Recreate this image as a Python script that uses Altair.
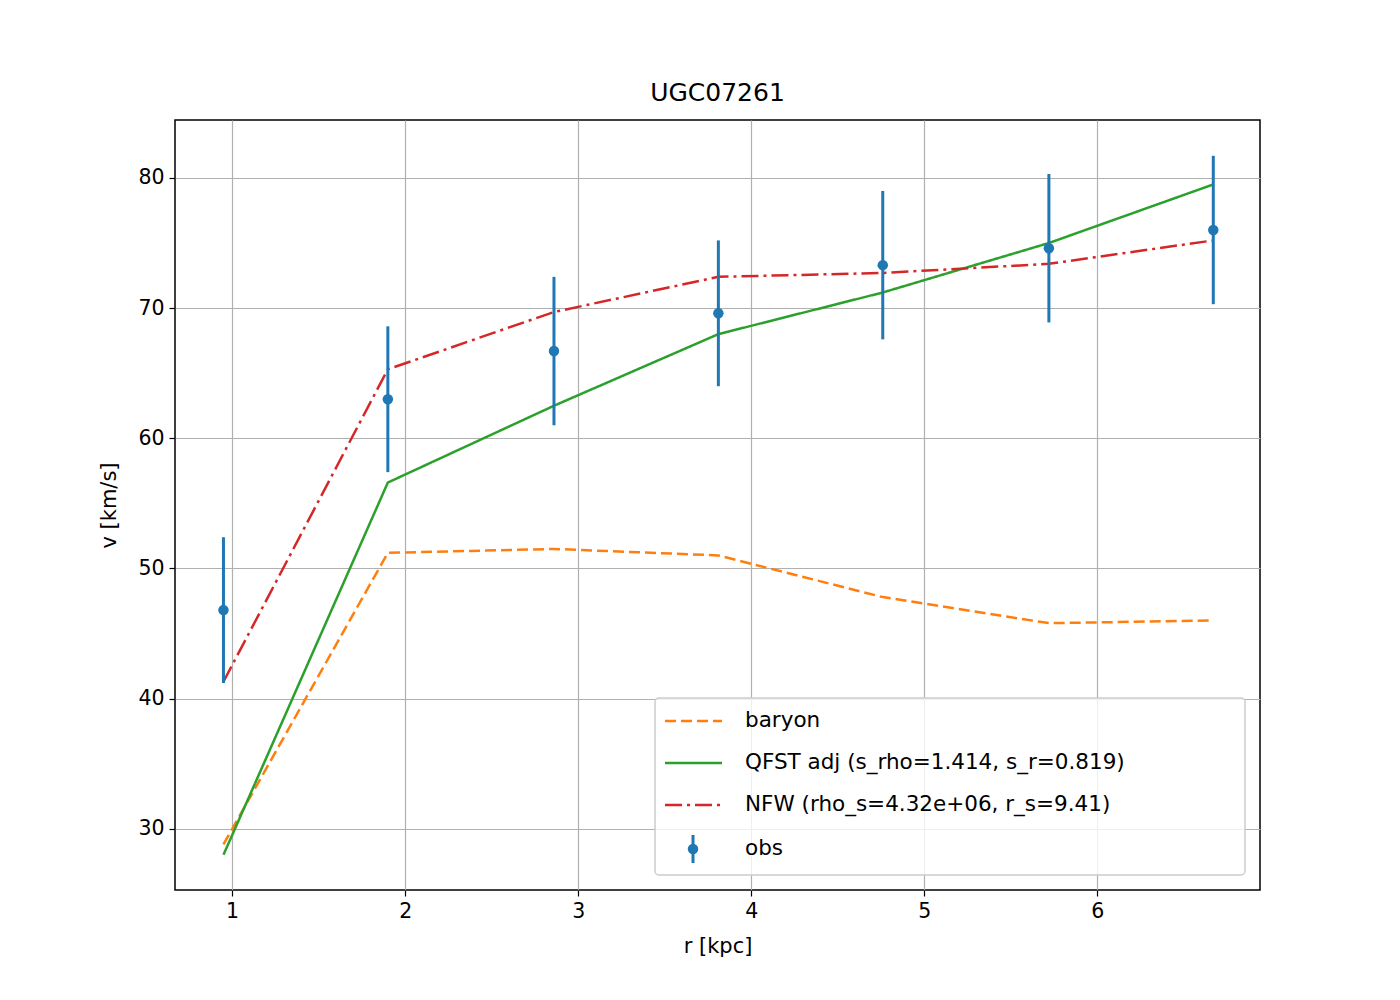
import altair as alt
import pandas as pd

r = [0.95, 1.90, 2.86, 3.81, 4.76, 5.72, 6.67]
v_obs = [46.8, 63.0, 66.7, 69.6, 73.3, 74.6, 76.0]
v_err = [5.6, 5.6, 5.7, 5.6, 5.7, 5.7, 5.7]
v_baryon = [28.8, 51.2, 51.5, 51.0, 47.8, 45.8, 46.0]
v_qfst = [28.0, 56.6, 62.5, 68.0, 71.2, 75.0, 79.5]
v_nfw = [41.3, 65.3, 69.7, 72.4, 72.7, 73.4, 75.2]

labels = ['baryon', 'QFST adj (s_rho=1.414, s_r=0.819)',
          'NFW (rho_s=4.32e+06, r_s=9.41)', 'obs']
colors = ['#ff7f0e', '#2ca02c', '#d62728', '#1f77b4']
dashes = [[11, 5], [1, 0], [17, 5, 3, 5]]

FONT = 'DejaVu Sans'
W, H = 1085, 770

obs = pd.DataFrame({'r': r, 'v': v_obs,
                    'lo': [a - b for a, b in zip(v_obs, v_err)],
                    'hi': [a + b for a, b in zip(v_obs, v_err)]})

xs = alt.Scale(domain=[0.67, 6.94], nice=False, zero=False)
ys = alt.Scale(domain=[25.3, 84.45], nice=False, zero=False)
xax = alt.Axis(values=[1, 2, 3, 4, 5, 6], title='r [kpc]', format='d', titlePadding=14)
yax = alt.Axis(values=[30, 40, 50, 60, 70, 80], title='v [km/s]', titlePadding=18)

layers = []
for i, vals in enumerate([v_baryon, v_qfst, v_nfw]):
    df = pd.DataFrame({'r': r, 'v': vals})
    layers.append(alt.Chart(df).mark_line(color=colors[i], strokeWidth=2.5,
                                          strokeDash=dashes[i]).encode(
        x=alt.X('r:Q', scale=xs, axis=xax),
        y=alt.Y('v:Q', scale=ys, axis=yax)))

bars = alt.Chart(obs).mark_rule(color=colors[3], strokeWidth=3).encode(
    x='r:Q', y='lo:Q', y2='hi:Q')
pts = alt.Chart(obs).mark_circle(color=colors[3], size=110, opacity=1).encode(
    x='r:Q', y='v:Q')

# legend box in the lower right
box = alt.Chart(pd.DataFrame({'a': [0]})).mark_rect(
    fill='white', fillOpacity=0.8, stroke='#cccccc', strokeWidth=1.5, cornerRadius=4).encode(
    x=alt.value(480), x2=alt.value(1070), y=alt.value(578), y2=alt.value(755))
leg = [box]
rows = [601, 643, 685, 729]
for i in range(3):
    leg.append(alt.Chart(pd.DataFrame({'a': [0]})).mark_rule(
        color=colors[i], strokeWidth=2.5, strokeDash=dashes[i]).encode(
        x=alt.value(490), x2=alt.value(547), y=alt.value(rows[i])))
leg.append(alt.Chart(pd.DataFrame({'a': [0]})).mark_rule(
    color=colors[3], strokeWidth=3).encode(
    x=alt.value(518), y=alt.value(rows[3] - 14), y2=alt.value(rows[3] + 14)))
leg.append(alt.Chart(pd.DataFrame({'a': [0]})).mark_circle(
    color=colors[3], size=110, opacity=1).encode(x=alt.value(518), y=alt.value(rows[3])))
for i in range(4):
    leg.append(alt.Chart(pd.DataFrame({'t': [labels[i]]})).mark_text(
        align='left', baseline='middle', font=FONT, fontSize=21.5, color='black').encode(
        x=alt.value(570), y=alt.value(rows[i]), text='t:N'))

chart = alt.layer(*layers, bars, pts, *leg).properties(
    width=W, height=H,
    title=alt.TitleParams('UGC07261', font=FONT, fontSize=25, fontWeight='normal', offset=14),
    autosize=alt.AutoSizeParams(type='none'),
    padding={'left': 167, 'top': 112, 'right': 132, 'bottom': 102},
    background='white'
).configure_view(stroke='black', strokeWidth=1.5).configure_axis(
    grid=True, gridColor='#b0b0b0', gridWidth=1.2, domain=False,
    tickColor='black', tickSize=6, tickWidth=1.2,
    labelFont=FONT, labelFontSize=20.5, labelColor='black', labelPadding=5,
    titleFont=FONT, titleFontSize=21, titleFontWeight='normal', titleColor='black'
)

chart.save("out.html", embed_options={"renderer": "svg", "actions": False})
